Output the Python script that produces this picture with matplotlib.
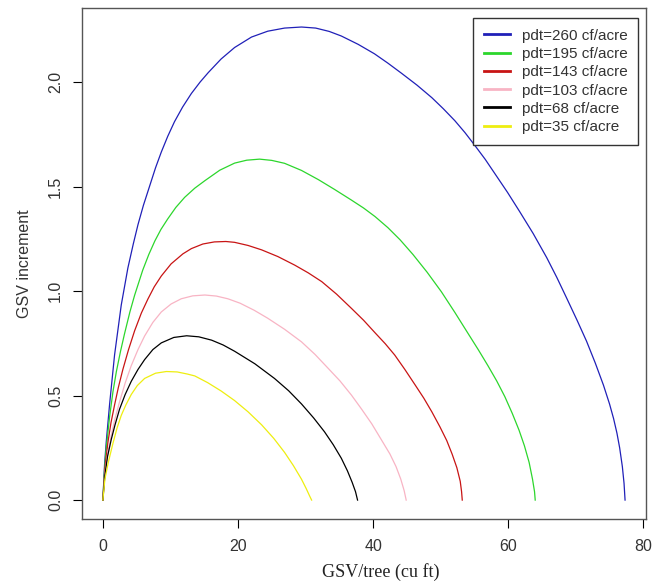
import matplotlib
matplotlib.use("Agg")
import matplotlib.pyplot as plt

# values
labels = ["pdt=260 cf/acre", "pdt=195 cf/acre", "pdt=143 cf/acre",
          "pdt=103 cf/acre", "pdt=68 cf/acre", "pdt=35 cf/acre"]
colors = ["#2020b8", "#2cd62c", "#c81414", "#f8b4c4", "black", "#eeee10"]

blue_x = [0, 0.25, 0.5, 1.0, 1.73, 2.72, 3.7, 4.5, 5.2, 6.0, 6.9, 7.8, 8.65, 9.6, 10.6,
          11.8, 13.1, 14.4, 15.6, 17.5, 19.5, 22, 24.4, 26.9, 29.4, 31.5, 33.5, 35.3,
          37.8, 40.2, 42.2, 44.2, 46.5, 48.7, 50.4, 52.1, 53.6, 55.1, 56.6, 58.0, 59.9,
          61.7, 63.7, 65.7, 67.2, 68.6, 70.2, 71.6, 72.9, 74.1, 75.0, 75.6, 76.1, 76.5,
          76.9, 77.15, 77.3]
blue_y = [0, 0.17, 0.279, 0.46, 0.694, 0.933, 1.11, 1.225, 1.318, 1.41, 1.5, 1.59, 1.665,
          1.74, 1.81, 1.88, 1.945, 2.0, 2.045, 2.11, 2.165, 2.215, 2.243, 2.258, 2.263,
          2.258, 2.242, 2.22, 2.18, 2.135, 2.09, 2.042, 1.985, 1.925, 1.872, 1.815, 1.758,
          1.695, 1.63, 1.563, 1.472, 1.38, 1.275, 1.16, 1.065, 0.97, 0.86, 0.76, 0.655,
          0.55, 0.46, 0.39, 0.32, 0.25, 0.16, 0.08, 0.0]

green_x = [0, 0.25, 0.5, 1.0, 1.5, 2.0, 2.6, 3.2, 4.0, 4.7, 5.9, 6.8, 7.7, 8.6, 9.6, 10.8,
           12.1, 13.6, 15.1, 17.3, 19.5, 21.3, 23.2, 25.0, 26.9, 29.4, 31.9, 34.3, 36.8,
           38.6, 40.3, 42.2, 44.0, 45.9, 48.0, 50.1, 52.1, 54.1, 55.6, 57.0, 58.3, 59.5,
           60.6, 61.6, 62.4, 63.1, 63.6, 63.9, 64.0]
green_y = [0, 0.15, 0.25, 0.40, 0.52, 0.615, 0.71, 0.795, 0.9, 0.98, 1.1, 1.175, 1.24,
           1.295, 1.345, 1.4, 1.448, 1.492, 1.528, 1.578, 1.612, 1.626, 1.631, 1.625, 1.611,
           1.577, 1.533, 1.486, 1.435, 1.397, 1.356, 1.303, 1.245, 1.175, 1.09, 0.997,
           0.898, 0.795, 0.718, 0.643, 0.57, 0.495, 0.415, 0.335, 0.26, 0.18, 0.1, 0.04, 0.0]

red_x = [0, 0.3, 0.74, 1.2, 1.73, 2.3, 2.96, 3.8, 4.7, 5.7, 6.67, 7.6, 8.65, 10.1, 11.85,
         13.1, 14.8, 16.5, 18.2, 19.5, 21.5, 23.5, 25.9, 28.4, 30.4, 32.4, 34.6, 36.8,
         38.6, 40.3, 41.8, 43.2, 44.7, 46.2, 47.5, 48.7, 49.9, 50.9, 51.7, 52.4, 52.9,
         53.1, 53.2]
red_y = [0, 0.15, 0.275, 0.37, 0.455, 0.54, 0.625, 0.72, 0.81, 0.895, 0.962, 1.02, 1.072,
         1.13, 1.178, 1.203, 1.225, 1.235, 1.237, 1.233, 1.218, 1.197, 1.165, 1.124, 1.087,
         1.045, 0.985, 0.917, 0.86, 0.8, 0.748, 0.694, 0.625, 0.552, 0.488, 0.422, 0.35,
         0.285, 0.22, 0.155, 0.09, 0.04, 0.0]

pink_x = [0, 0.3, 0.7, 1.24, 1.8, 2.47, 3.3, 4.2, 5.2, 6.18, 7.4, 8.65, 10.1, 11.6, 13.3,
          15.1, 16.8, 18.5, 20.3, 22.4, 24.4, 26.9, 29.4, 31.4, 33.3, 35.1, 36.8, 38.3,
          39.8, 41.2, 42.5, 43.4, 44.1, 44.6, 44.9]
pink_y = [0, 0.13, 0.22, 0.31, 0.39, 0.47, 0.56, 0.643, 0.72, 0.785, 0.85, 0.9, 0.938,
          0.963, 0.977, 0.981, 0.976, 0.963, 0.942, 0.908, 0.87, 0.817, 0.757, 0.697,
          0.632, 0.57, 0.502, 0.435, 0.365, 0.29, 0.22, 0.16, 0.1, 0.045, 0.0]

black_x = [0, 0.3, 0.7, 1.24, 1.8, 2.47, 3.3, 4.2, 5.2, 6.18, 7.4, 8.65, 10.5, 12.4, 14.2,
           16.1, 17.8, 19.5, 22.5, 25.4, 27.5, 29.4, 31.2, 32.8, 34.1, 35.3, 36.2, 36.9,
           37.4, 37.7]
black_y = [0, 0.12, 0.21, 0.29, 0.36, 0.435, 0.505, 0.568, 0.625, 0.672, 0.72, 0.752, 0.778,
           0.786, 0.781, 0.765, 0.742, 0.712, 0.652, 0.582, 0.523, 0.46, 0.393, 0.327,
           0.265, 0.2, 0.14, 0.085, 0.04, 0.0]

yellow_x = [0, 0.3, 0.8, 1.48, 2.1, 2.72, 3.4, 4.2, 5.1, 6.18, 7.8, 9.4, 11.0, 12.5, 13.6,
            15.5, 17.5, 19.5, 21.5, 23.5, 25.3, 26.9, 28.2, 29.4, 30.1, 30.6, 30.9]
yellow_y = [0, 0.1, 0.18, 0.27, 0.345, 0.405, 0.455, 0.505, 0.548, 0.582, 0.607, 0.615,
            0.613, 0.603, 0.594, 0.562, 0.522, 0.476, 0.422, 0.36, 0.295, 0.228, 0.165,
            0.1, 0.055, 0.02, 0.0]

curves = [(blue_x, blue_y), (green_x, green_y), (red_x, red_y),
          (pink_x, pink_y), (black_x, black_y), (yellow_x, yellow_y)]

plt.rcParams['font.family'] = ['Liberation Sans', 'DejaVu Sans']

fig = plt.figure(figsize=(6.53, 5.88), dpi=100)
ax = fig.add_axes([82 / 653, 69 / 588, 564 / 653, 511 / 588])

for (xs, ys), c, lab in zip(curves, colors, labels):
    ax.plot(xs, ys, color=c, lw=0.9, label=lab)

ax.set_xlim(-3.09, 80.4)
ax.set_ylim(-0.0905, 2.354)
ax.set_xticks([0, 20, 40, 60, 80])
ax.set_yticks([0.0, 0.5, 1.0, 1.5, 2.0])
ax.set_yticklabels(["0.0", "0.5", "1.0", "1.5", "2.0"], rotation=90, va='center')
ax.tick_params(axis='both', direction='out', length=6.5, width=0.8, labelsize=11.5,
               colors='black', labelcolor='#333333')
ax.tick_params(axis='x', pad=8)
ax.tick_params(axis='y', pad=7)
for s in ax.spines.values():
    s.set_color('#555555')
    s.set_linewidth(1.0)

ax.set_ylabel("GSV increment", fontsize=11.5, color='#333333', labelpad=12)
fig.text(381 / 653, 1 - 572 / 588, "GSV/tree (cu ft)", ha='center', va='center',
         fontsize=13, family=['Liberation Serif', 'DejaVu Serif'], color='#222222')

leg = ax.legend(loc='upper right', bbox_to_anchor=(0.9858, 0.9804), borderaxespad=0,
                fontsize=11, fancybox=False, framealpha=1, edgecolor='#333333',
                handlelength=1.7, handletextpad=0.75, borderpad=0.7, labelspacing=0.28)
leg.get_frame().set_linewidth(1.0)
for line in leg.get_lines():
    line.set_linewidth(2.0)
for t in leg.get_texts():
    t.set_color('#333333')

fig.savefig("out.png", dpi=100)
